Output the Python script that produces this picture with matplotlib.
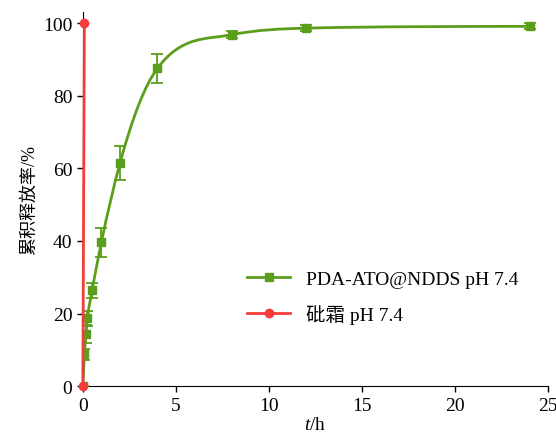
import numpy as np
import matplotlib.pyplot as plt
from matplotlib.path import Path
from matplotlib.patches import PathPatch
from matplotlib.lines import Line2D

# PDA-ATO@NDDS pH 7.4 release data
t_ndds = [0, 0.083, 0.167, 0.25, 0.5, 1, 2, 4, 8, 12, 24]
rel_ndds = [0, 8.8, 14.3, 18.7, 26.4, 39.7, 61.5, 87.5, 96.8, 98.6, 99.1]
err_ndds = [0, 1.5, 2.5, 2.0, 2.0, 4.0, 4.6, 4.0, 1.0, 0.8, 0.8]

# free arsenic trioxide pH 7.4
t_ato = [0, 0.083]
rel_ato = [0, 100]

GREEN = "#5b9e1c"
RED = "#f73b3b"

plt.rcParams["font.family"] = ["Liberation Serif", "Noto Sans CJK SC"]
plt.rcParams["font.size"] = 14
plt.rcParams["mathtext.fontset"] = "custom"
plt.rcParams["mathtext.it"] = "Liberation Serif:italic"
plt.rcParams["mathtext.rm"] = "Liberation Serif"


def smooth_path(x, y):
    """smooth cubic through the points, tangents clamped to stay monotone"""
    x = np.asarray(x, float)
    y = np.asarray(y, float)
    h = np.diff(x)
    d = np.diff(y) / h
    m = np.zeros_like(y)
    m[0], m[-1] = d[0], d[-1]
    for i in range(1, len(x) - 1):
        m[i] = (h[i] * d[i - 1] + h[i - 1] * d[i]) / (h[i - 1] + h[i])
    for i in range(len(d)):
        if d[i] == 0:
            m[i] = m[i + 1] = 0
            continue
        a, b = m[i] / d[i], m[i + 1] / d[i]
        s = a * a + b * b
        if s > 9:
            k = 3 / np.sqrt(s)
            m[i], m[i + 1] = k * a * d[i], k * b * d[i]
    verts = [(x[0], y[0])]
    codes = [Path.MOVETO]
    for i in range(len(x) - 1):
        verts += [(x[i] + h[i] / 3, y[i] + m[i] * h[i] / 3),
                  (x[i + 1] - h[i] / 3, y[i + 1] - m[i + 1] * h[i] / 3),
                  (x[i + 1], y[i + 1])]
        codes += [Path.CURVE4] * 3
    return Path(verts, codes)


fig = plt.figure(figsize=(5.56, 4.39), dpi=100)
ax = fig.add_axes([0.149, 0.118, 0.837, 0.852])

ax.add_patch(PathPatch(smooth_path(t_ndds, rel_ndds), fill=False,
                       edgecolor=GREEN, lw=2, zorder=2))
ax.errorbar(t_ndds, rel_ndds, yerr=err_ndds, fmt="s", color=GREEN,
            ms=6, elinewidth=1.3, capsize=4, capthick=1.3, zorder=3)

ax.plot(t_ato, rel_ato, "-o", color=RED, lw=2, ms=6, zorder=4, clip_on=False)

ax.set_xlim(0, 25)
ax.set_ylim(0, 103)
ax.set_xticks([0, 5, 10, 15, 20, 25])
ax.set_yticks([0, 20, 40, 60, 80, 100])
ax.spines["top"].set_visible(False)
ax.spines["right"].set_visible(False)
ax.tick_params(direction="out", length=4, width=1)
ax.set_xlabel("$t$/h", fontsize=14, labelpad=2)
ax.set_ylabel("累积释放率/%", fontsize=13, labelpad=4)

handles = [Line2D([], [], color=GREEN, lw=2, marker="s", ms=6),
           Line2D([], [], color=RED, lw=2, marker="o", ms=6)]
ax.legend(handles, ["PDA-ATO@NDDS pH 7.4", "砒霜 pH 7.4"],
          loc="center left", bbox_to_anchor=(0.316, 0.238), frameon=False,
          fontsize=14, handlelength=2.2, labelspacing=0.8)

fig.savefig("out.png", dpi=100)
